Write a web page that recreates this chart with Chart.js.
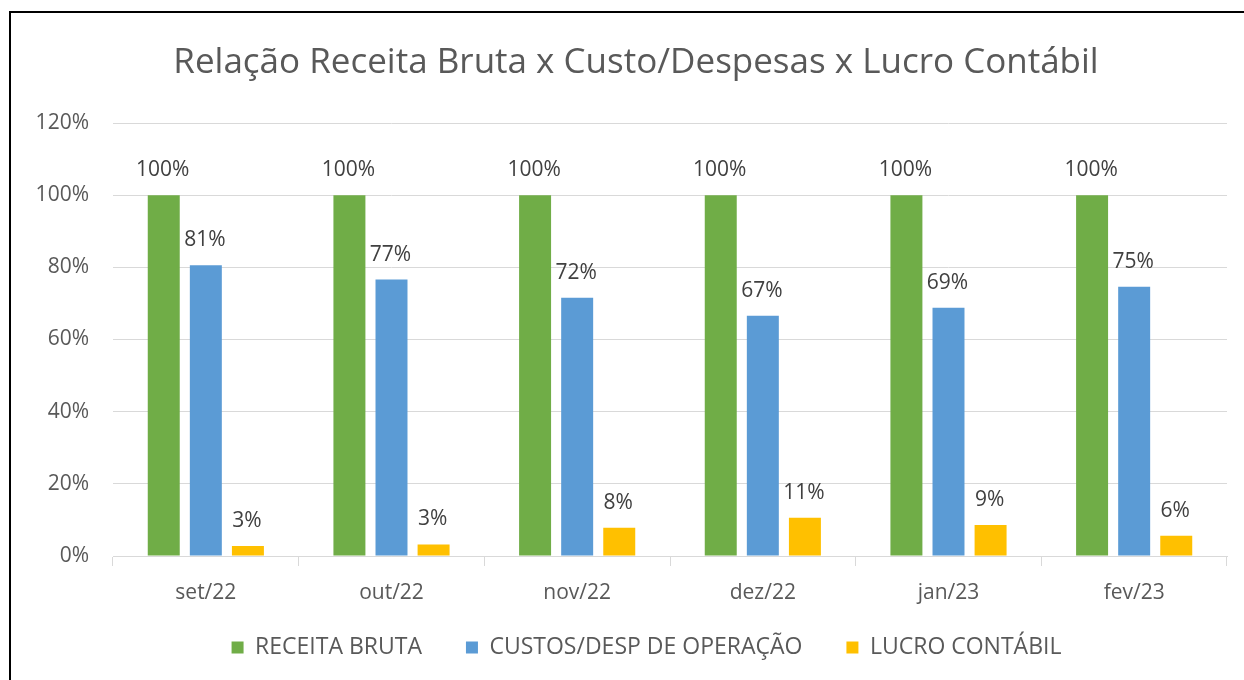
<!DOCTYPE html>
<html>
<head>
<meta charset="utf-8">
<script src="https://cdn.jsdelivr.net/npm/chart.js@4"></script>
<style>
  body { margin: 0; background: #fff; }
  #wrap { position: relative; width: 1244px; height: 680px; overflow: hidden; }
  #frame { position: absolute; left: 9px; top: 11px; width: 1300px; height: 700px; border: 2px solid #000; box-sizing: border-box; pointer-events: none; }
</style>
</head>
<body>
<div id="wrap">
  <canvas id="chart" width="1244" height="680"></canvas>
  <div id="frame"></div>
</div>
<script>
const months = ['set/22', 'out/22', 'nov/22', 'dez/22', 'jan/23', 'fev/23'];
const receitaBruta = [100, 100, 100, 100, 100, 100];
const custosDesp = [80.6, 76.6, 71.6, 66.6, 68.8, 74.6];
const lucroContabil = [2.8, 3.2, 7.8, 10.6, 8.6, 5.6];
const yTicks = [0, 20, 40, 60, 80, 100, 120];
const titleText = 'Relação Receita Bruta x Custo/Despesas x Lucro Contábil';

const FONT = '"Open Sans", sans-serif';
const LEGEND_PAD = 44;

// value labels above the bars + chart title
const valueLabels = {
    id: 'valueLabels',
    afterDatasetsDraw(chart) {
        const ctx = chart.ctx;
        ctx.save();
        ctx.font = '21px ' + FONT;
        ctx.fillStyle = '#404040';
        ctx.textAlign = 'center';
        ctx.textBaseline = 'middle';
        chart.data.datasets.forEach((ds, i) => {
            const meta = chart.getDatasetMeta(i);
            meta.data.forEach((bar, j) => {
                ctx.fillText(Math.round(ds.data[j]) + '%', bar.x - 1, bar.y - 25);
            });
        });
        ctx.font = '35px ' + FONT;
        ctx.fillStyle = '#595959';
        ctx.fillText(titleText, 636, 63);
        ctx.restore();
    }
};

// legend: wide gaps between items without the extra space above
const legendSpacing = {
    id: 'legendSpacing',
    beforeUpdate(chart) {
        const lg = chart.legend;
        if (lg && !lg._patched) {
            const fit = lg.fit;
            lg.fit = function () {
                fit.call(this);
                this.height -= LEGEND_PAD - 10;
            };
            lg._patched = true;
        }
    },
    afterLayout(chart) {
        // grow the box upward so the items stay inside its clip area, nudge right
        chart.legend.top -= LEGEND_PAD - 10;
        chart.legend.left += 66;
    }
};

new Chart(document.getElementById('chart').getContext('2d'), {
    type: 'bar',
    data: {
        labels: months,
        datasets: [
            { label: 'RECEITA BRUTA', data: receitaBruta, backgroundColor: '#70ad47', borderWidth: 0 },
            { label: 'CUSTOS/DESP DE OPERAÇÃO', data: custosDesp, backgroundColor: '#5b9bd5', borderWidth: 0 },
            { label: 'LUCRO CONTÁBIL', data: lucroContabil, backgroundColor: '#ffc000', borderWidth: 0 }
        ]
    },
    options: {
        responsive: false,
        animation: false,
        categoryPercentage: 0.68,
        barPercentage: 0.76,
        layout: { padding: { top: 123, left: 0, right: 17, bottom: 11 } },
        plugins: {
            legend: {
                position: 'bottom',
                labels: {
                    color: '#595959',
                    font: { family: FONT, size: 23 },
                    boxWidth: 12,
                    boxHeight: 12,
                    padding: LEGEND_PAD
                }
            },
            tooltip: { enabled: false }
        },
        scales: {
            x: {
                grid: { drawOnChartArea: false, drawTicks: true, tickLength: 10, color: '#d9d9d9' },
                border: { color: '#d9d9d9' },
                ticks: { color: '#595959', font: { family: FONT, size: 21 }, padding: 14 },
                afterFit(scale) { scale.height = 70; }
            },
            y: {
                min: 0,
                max: 120,
                afterBuildTicks(scale) { scale.ticks = yTicks.map(v => ({ value: v })); },
                grid: { color: '#d9d9d9', drawTicks: false },
                border: { display: false },
                ticks: {
                    color: '#595959',
                    font: { family: FONT, size: 21 },
                    padding: 24,
                    callback: v => v + '%'
                },
                afterFit(scale) { scale.width = 113; }
            }
        }
    },
    plugins: [valueLabels, legendSpacing]
});
</script>
</body>
</html>
